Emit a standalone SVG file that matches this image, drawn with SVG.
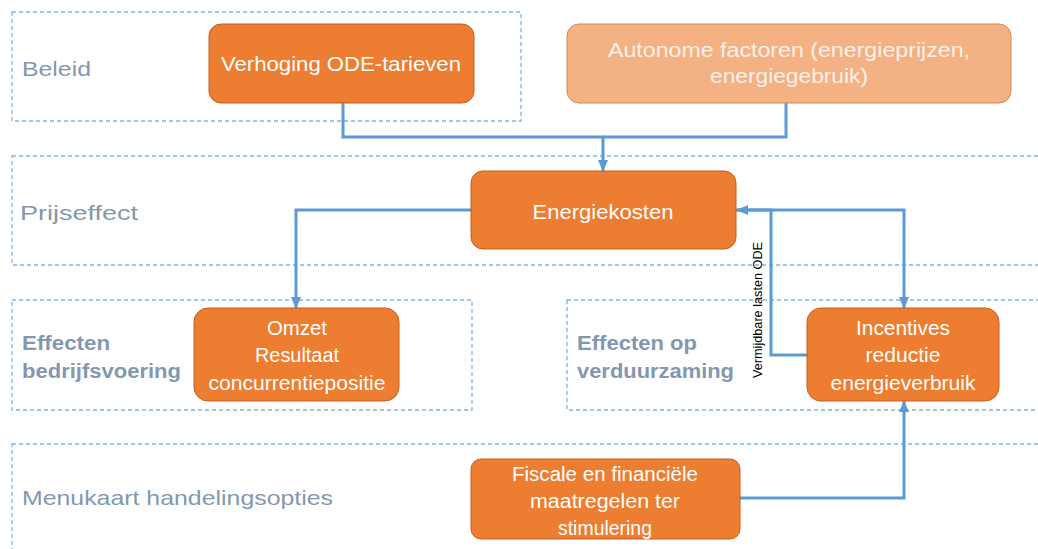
<svg xmlns="http://www.w3.org/2000/svg" width="1038" height="549" viewBox="0 0 1038 549">
<style>
.lane{fill:none;stroke:#7FB2E0;stroke-width:1.3;stroke-dasharray:4 3}
.lbl{font-family:"Liberation Sans",Arial,sans-serif;font-size:21px;fill:#8497B0}
.lblb{font-family:"Liberation Sans",Arial,sans-serif;font-size:20px;fill:#8497B0;font-weight:bold}
.node{fill:#ED7D31;stroke:#C55F1E;stroke-width:1}
.node2{fill:#F4B183;stroke:#D6874C;stroke-width:1}
.nt{font-family:"Liberation Sans",Arial,sans-serif;font-size:20px;fill:#FFFFFF;text-anchor:middle}
.nt2{font-family:"Liberation Sans",Arial,sans-serif;font-size:20px;fill:#FDF1E8;text-anchor:middle}
.conn{fill:none;stroke:#5B9BD5;stroke-width:3}
.edge{font-family:"Liberation Sans",Arial,sans-serif;font-size:13px;fill:#000000;text-anchor:middle}
</style>
<defs>
<marker id="arr" markerWidth="12" markerHeight="10" refX="11" refY="5" orient="auto" markerUnits="userSpaceOnUse">
<path d="M0,0 L12,5 L0,10 Z" fill="#5B9BD5"/>
</marker>
</defs>
<rect width="1038" height="549" fill="#FFFFFF"/>
<g id="lanes">
<rect class="lane" x="12" y="12" width="509" height="109"/>
<rect class="lane" x="12" y="156" width="1040" height="109"/>
<rect class="lane" x="12" y="300" width="460" height="110"/>
<rect class="lane" x="567" y="300" width="480" height="110"/>
<rect class="lane" x="12" y="444" width="1040" height="120"/>
<text class="lbl" x="22" y="76" textLength="69" lengthAdjust="spacingAndGlyphs">Beleid</text>
<text class="lbl" x="20" y="220" textLength="118" lengthAdjust="spacingAndGlyphs">Prijseffect</text>
<text class="lblb" x="22" y="350" textLength="88" lengthAdjust="spacingAndGlyphs">Effecten</text>
<text class="lblb" x="22" y="378" textLength="159" lengthAdjust="spacingAndGlyphs">bedrijfsvoering</text>
<text class="lblb" x="577" y="350" textLength="120" lengthAdjust="spacingAndGlyphs">Effecten op</text>
<text class="lblb" x="577" y="378" textLength="157" lengthAdjust="spacingAndGlyphs">verduurzaming</text>
<text class="lbl" x="22" y="505" textLength="311" lengthAdjust="spacingAndGlyphs">Menukaart handelingsopties</text>
</g>
<g id="connectors">
<path class="conn" d="M343,103 V137 H603 V171" marker-end="url(#arr)"/>
<path class="conn" d="M786,103 V137 H603"/>
<path class="conn" d="M471,210 H296 V308" marker-end="url(#arr)"/>
<path class="conn" d="M736,210 H904 V308" marker-end="url(#arr)"/>
<path class="conn" d="M807,355 H771 V210 H737" marker-end="url(#arr)"/>
<path class="conn" d="M740,498 H904 V401" marker-end="url(#arr)"/>
<text class="edge" transform="translate(762,310) rotate(-90)" textLength="136" lengthAdjust="spacingAndGlyphs">Vermijdbare lasten ODE</text>
</g>
<g id="n-verhoging">
<rect class="node" x="209" y="24" width="265" height="79" rx="12"/>
<text class="nt" x="341" y="71" textLength="240" lengthAdjust="spacingAndGlyphs">Verhoging ODE-tarieven</text>
</g>
<g id="n-autonome">
<rect class="node2" x="567" y="24" width="444" height="79" rx="12"/>
<text class="nt2" x="789" y="57" textLength="362" lengthAdjust="spacingAndGlyphs">Autonome factoren (energieprijzen,</text>
<text class="nt2" x="789" y="83" textLength="158" lengthAdjust="spacingAndGlyphs">energiegebruik)</text>
</g>
<g id="n-energiekosten">
<rect class="node" x="471" y="171" width="265" height="78" rx="12"/>
<text class="nt" x="603" y="219" textLength="141" lengthAdjust="spacingAndGlyphs">Energiekosten</text>
</g>
<g id="n-omzet">
<rect class="node" x="194" y="308" width="205" height="93" rx="14"/>
<text class="nt" x="297" y="335" textLength="60" lengthAdjust="spacingAndGlyphs">Omzet</text>
<text class="nt" x="297" y="362" textLength="84" lengthAdjust="spacingAndGlyphs">Resultaat</text>
<text class="nt" x="297" y="390" textLength="177" lengthAdjust="spacingAndGlyphs">concurrentiepositie</text>
</g>
<g id="n-incentives">
<rect class="node" x="807" y="308" width="192" height="93" rx="14"/>
<text class="nt" x="903" y="335" textLength="94" lengthAdjust="spacingAndGlyphs">Incentives</text>
<text class="nt" x="903" y="362" textLength="75" lengthAdjust="spacingAndGlyphs">reductie</text>
<text class="nt" x="903" y="390" textLength="145" lengthAdjust="spacingAndGlyphs">energieverbruik</text>
</g>
<g id="n-fiscale">
<rect class="node" x="471" y="459" width="269" height="80" rx="10"/>
<text class="nt" x="605" y="481" font-size="19" textLength="186" lengthAdjust="spacingAndGlyphs">Fiscale en financiële</text>
<text class="nt" x="605" y="508" font-size="19" textLength="150" lengthAdjust="spacingAndGlyphs">maatregelen ter</text>
<text class="nt" x="605" y="535" font-size="19" textLength="94" lengthAdjust="spacingAndGlyphs">stimulering</text>
</g>
</svg>
